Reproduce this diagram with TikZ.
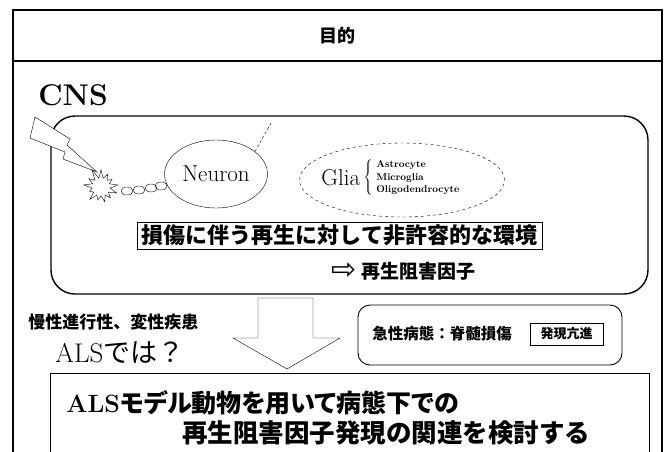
\documentclass[tikz,border=0pt]{standalone}
\usepackage{fontspec}
\usepackage{amsmath}
\usetikzlibrary{positioning,shapes.geometric,shapes.symbols}
\newfontfamily\jp{Noto Sans CJK JP}
\newfontfamily\jpp{Noto Sans CJK JP}[RawFeature=+palt]
\newfontfamily\dv{DejaVu Sans}
\newcommand\fsz[2]{\fontsize{#1}{#2}\selectfont}

\begin{document}
\begin{tikzpicture}[x=1pt,y=-1pt,semithick,
                    every node/.style={inner sep=0pt}]
    \tikzset{jtext/.style={font=\jp\bfseries\fsz{#1}{#1}},
             cell/.style={draw,ellipse,thin},
             bead/.style={draw,ellipse,thin,minimum width=12pt,minimum height=8pt}}
    \useasboundingbox (0,0) rectangle (671,451);
    \clip (0,0) rectangle (671,451);

    % frame and title bar
    \draw[line width=1.4pt] (13,480) -- (13,10) -- (662,10) -- (662,480);
    \draw[line width=2.4pt] (13,61) -- (662,61);
    \node[jtext=18] (title) at (337,36) {目的};

    % CNS panel
    \node[anchor=west,font=\bfseries\fsz{30}{30}] (cns) at (38,95) {CNS};
    \node[draw,line width=1.4pt,rounded corners=24pt,minimum width=597pt,
          minimum height=178pt] (cnsbox) at (349.5,205) {};
    \draw[thin,fill=white] (35,117) -- (70,139) -- (67,145) -- (97,172)
        -- (63,159) -- (65,152) -- (30,138) -- cycle;
    \node[draw,thin,fill=white,starburst,starburst points=13,
          starburst point height=11pt,random starburst=11,
          minimum width=40pt,minimum height=40pt] (spark) at (101,187) {};
    \foreach \i/\x/\y in {1/127/191,2/139/190,3/151/188,4/161/186}
        \node[bead] (bead\i) at (\x,\y) {};
    \node[cell,minimum width=103pt,minimum height=68pt,font=\fsz{23}{23}]
        (neuron) at (216,174) {Neuron};
    \coordinate (axon) at (271,123);
    \draw[thin,densely dashed] (neuron.30) -- (axon);

    \node[cell,dashed,minimum width=205pt,minimum height=74pt]
        (gliacell) at (402,180) {};
    \node[anchor=west,font=\fsz{23}{23}] (glia) at (321,178) {Glia};
    \node[right=3pt of glia] (brace)
        {$\left\{\vrule height 17pt depth 17pt width 0pt\right.$};
    \node[right=2pt of brace,align=left,font=\bfseries\fsz{10}{12.5}]
        (types) {Astrocyte\\Microglia\\Oligodendrocyte};

    \node[draw,thin,jtext=22,minimum width=405pt,minimum height=27pt]
        (env) at (339.5,235.5) {損傷に伴う再生に対して非許容的な環境};
    \node[anchor=west,font=\dv\fsz{30}{30}] (hint) at (331,271) {⇨};
    \node[right=4pt of hint,jtext=19] (factor) {再生阻害因子};

    % hollow arrow down to the aim
    \coordinate (shaft) at (286,298);
    \draw[thin] (shaft) ++(-28,0) -- ++(55,0) -- ++(0,40) -- ++(27,0)
        -- ++(-53,31) -- ++(-54,-31) -- ++(25,0) -- cycle;

    \node[jtext=17,anchor=west] (chronic) at (28,322) {慢性進行性、変性疾患};
    \node[anchor=west] (als) at (55,353) {\fsz{27}{27}ALS{\jp では？}};

    \node[draw,line width=0.9pt,rounded corners=12pt,minimum width=264pt,
          minimum height=60pt] (acute) at (490,335) {};
    \node[jtext=15.5,anchor=west] (sci) at (372,334) {急性病態：脊髄損傷};
    \node[draw,thin,jtext=13,minimum width=73pt,minimum height=22pt]
        (up) at (566.5,334) {発現亢進};

    % aim
    \node[draw,thin,anchor=north west,minimum width=599pt,minimum height=100pt]
        (aim) at (50,373) {};
    \node[anchor=west] (aim1) at (66,403)
        {\fsz{25}{25}\bfseries ALS{\jpp モデル動物を用いて病態下での}};
    \node[jtext=25.5,anchor=west] (aim2) at (182,433)
        {再生阻害因子発現の関連を検討する};
\end{tikzpicture}
\end{document}
